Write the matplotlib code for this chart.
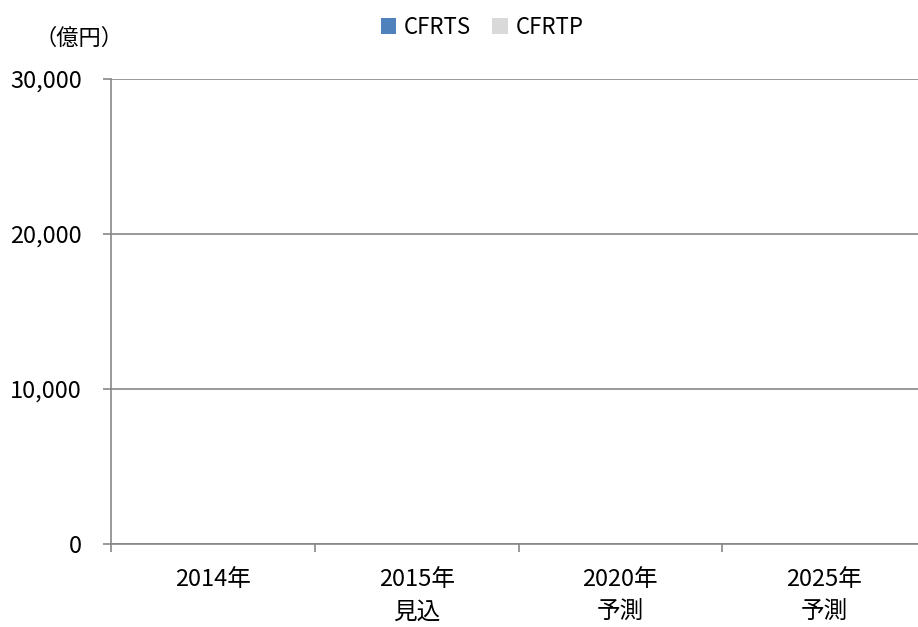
import matplotlib
matplotlib.use("Agg")
import matplotlib.pyplot as plt
import numpy as np

plt.rcParams['font.family'] = ['Noto Sans CJK JP', 'DejaVu Sans']

# data (the chart shows no visible bars: all values are zero)
categories = ['2014年', '2015年\n見込', '2020年\n予測', '2025年\n予測']
cfrts = [0, 0, 0, 0]
cfrtp = [0, 0, 0, 0]
yticks = [0, 10000, 20000, 30000]

blue = '#4F81BD'
light = '#D9D9D9'
grid_c = '#878787'
fs = 17

fig = plt.figure(figsize=(9.18, 6.27), dpi=100)
W, H = 918, 627
ax = fig.add_axes([111 / W, 1 - 544 / H, 815 / W, (544 - 79) / H])

x = np.arange(len(categories))
ax.bar(x, cfrts, width=0.5, color=blue, label='CFRTS')
ax.bar(x, cfrtp, width=0.5, bottom=cfrts, color=light, label='CFRTP')

ax.set_xlim(-0.5, len(categories) - 0.5)
ax.set_ylim(0, 30000)
ax.set_yticks(yticks)
ax.set_yticklabels([f'{v:,}' for v in yticks], fontsize=fs)
ax.yaxis.grid(True, color=grid_c, linewidth=1.2)
ax.set_axisbelow(True)

# category labels sit between boundary ticks
ax.set_xticks(x)
ax.set_xticklabels(categories, fontsize=fs, linespacing=1.55)
ax.tick_params(axis='x', length=0, pad=17)
ax.set_xticks(np.arange(len(categories) + 1) - 0.5, minor=True)
ax.tick_params(axis='x', which='minor', length=6, color=grid_c, width=1.2)
ax.tick_params(axis='y', length=6, color=grid_c, width=1.2, pad=15)

for s in ['top', 'right']:
    ax.spines[s].set_visible(False)
for s in ['left', 'bottom']:
    ax.spines[s].set_color(grid_c)
    ax.spines[s].set_linewidth(1.2)

fig.text(34 / W, 1 - 38 / H, '（億円）', fontsize=16, va='center', ha='left')

fig.legend(loc='center', bbox_to_anchor=(482 / W, 1 - 27 / H), ncol=2,
           frameon=False, fontsize=16, handlelength=0.7, handleheight=0.7,
           handletextpad=0.35, columnspacing=0.95)

fig.savefig('out.png', dpi=100)
